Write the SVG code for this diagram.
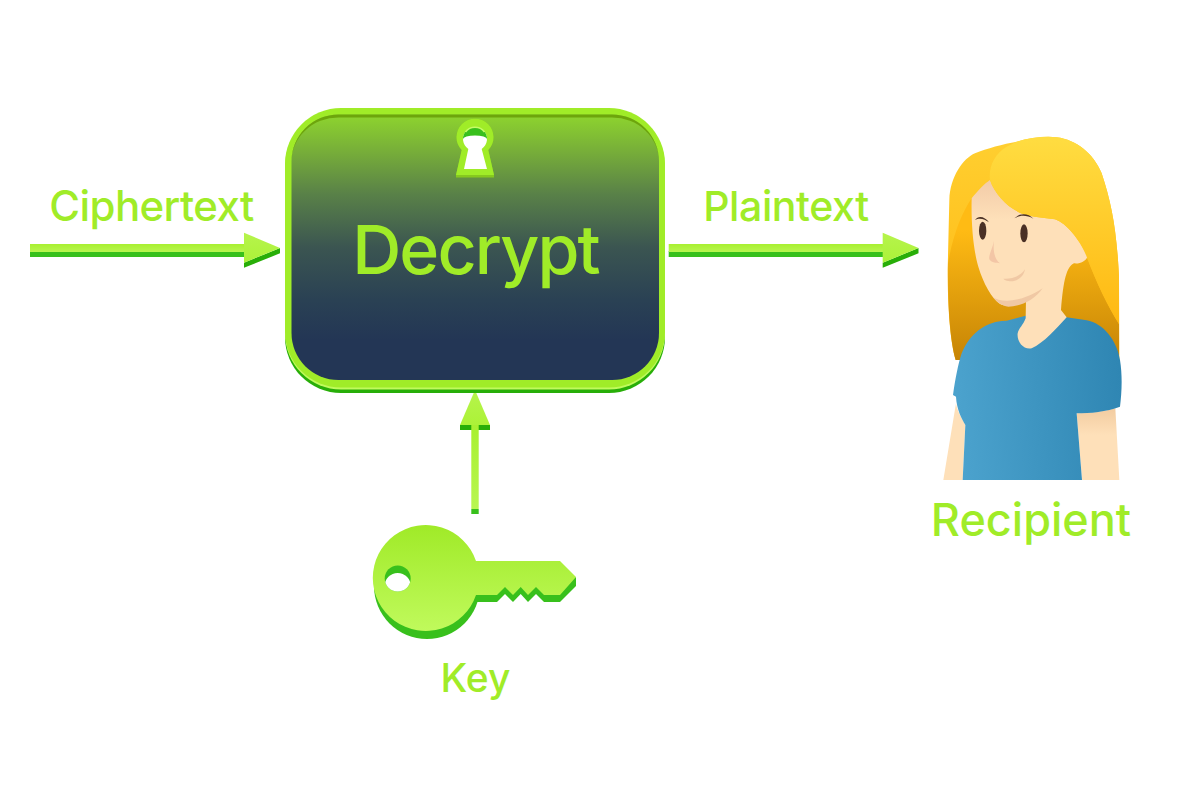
<svg xmlns="http://www.w3.org/2000/svg" width="1200" height="800" viewBox="0 0 1200 800">
  <defs>
    <linearGradient id="panelFill" x1="0" y1="0" x2="0" y2="1">
      <stop offset="0" stop-color="#8ed42e"/>
      <stop offset="0.15" stop-color="#75ab3a"/>
      <stop offset="0.3" stop-color="#598148"/>
      <stop offset="0.5" stop-color="#3b5551"/>
      <stop offset="0.7" stop-color="#2a4154"/>
      <stop offset="0.85" stop-color="#233655"/>
      <stop offset="1" stop-color="#233655"/>
    </linearGradient>
    <linearGradient id="arrowFill" x1="0" y1="0" x2="0" y2="1">
      <stop offset="0" stop-color="#a8f030"/>
      <stop offset="1" stop-color="#b8f650"/>
    </linearGradient>
    <linearGradient id="headFill" x1="0" y1="0" x2="0" y2="1">
      <stop offset="0" stop-color="#b6f44c"/>
      <stop offset="1" stop-color="#acf238"/>
    </linearGradient>
    <linearGradient id="keyFill" x1="0" y1="0" x2="0" y2="1">
      <stop offset="0" stop-color="#a0ea28"/>
      <stop offset="1" stop-color="#c0fa5c"/>
    </linearGradient>
    <linearGradient id="hairBase" gradientUnits="userSpaceOnUse" x1="0" y1="50" x2="0" y2="720">
      <stop offset="0" stop-color="#ffcf30"/>
      <stop offset="1" stop-color="#ffb610"/>
    </linearGradient>
    <linearGradient id="hairShade" gradientUnits="userSpaceOnUse" x1="0" y1="330" x2="0" y2="720">
      <stop offset="0" stop-color="#ffbb14"/>
      <stop offset="1" stop-color="#c68405"/>
    </linearGradient>
    <linearGradient id="hairFront" gradientUnits="userSpaceOnUse" x1="0" y1="60" x2="0" y2="600">
      <stop offset="0" stop-color="#ffdc40"/>
      <stop offset="1" stop-color="#ffb912"/>
    </linearGradient>
    <linearGradient id="shirtFill" gradientUnits="userSpaceOnUse" x1="110" y1="800" x2="600" y2="760">
      <stop offset="0" stop-color="#4ba2cd"/>
      <stop offset="1" stop-color="#2f86b3"/>
    </linearGradient>
    <linearGradient id="armShade" gradientUnits="userSpaceOnUse" x1="0" y1="870" x2="0" y2="945">
      <stop offset="0" stop-color="#f3cda2"/>
      <stop offset="1" stop-color="#fee0b9"/>
    </linearGradient>
    <linearGradient id="skinFill" gradientUnits="userSpaceOnUse" x1="0" y1="185" x2="0" y2="300">
      <stop offset="0" stop-color="#f3cca8"/>
      <stop offset="1" stop-color="#fee0b9"/>
    </linearGradient>
    <clipPath id="keyHoleClip"><circle cx="397.700" cy="578.500" r="13"/></clipPath>
  </defs>
  <style>
    .label { font-family: "Inter", "Liberation Sans", Arial, sans-serif; font-weight: 500; fill: #a0ec28; text-anchor: middle; }
    .edge { fill: #38c01c; }
    .under { fill: #28ae08; }
    .shaft { fill: url(#arrowFill); }
    .head { fill: url(#headFill); }
  </style>
  <rect width="1200" height="800" fill="#ffffff"/>

  <g id="connectors">
    <g id="ciphertext-arrow">
      <rect class="edge" x="30" y="251" width="215" height="6"/>
      <rect class="shaft" x="30" y="244" width="215" height="8"/>
      <path class="under" d="M244 262.700 L280 248 V253.300 L244 267.700Z"/>
      <path class="head" d="M244 232.700 L280 248 L244 262.700Z"/>
    </g>
    <g id="plaintext-arrow">
      <rect class="edge" x="668.700" y="251" width="215" height="6"/>
      <rect class="shaft" x="668.700" y="244" width="215" height="8"/>
      <path class="under" d="M882.700 262.700 L918.500 248 V253.300 L882.700 267.700Z"/>
      <path class="head" d="M882.700 232.700 L918.500 248 L882.700 262.700Z"/>
    </g>
    <g id="key-arrow">
      <rect class="under" x="460" y="425" width="30" height="5"/>
      <rect class="edge" x="471.300" y="509" width="7.400" height="5"/>
      <rect class="shaft" x="471.300" y="425" width="7.400" height="84"/>
      <path class="head" d="M475 390 L490 425 H460Z"/>
    </g>
  </g>

  <g id="decrypt">
    <rect x="285" y="114" width="380" height="279" rx="56" fill="#28ae08"/>
    <rect x="285" y="110" width="380" height="279.500" rx="56" fill="#c0fa5c"/>
    <rect x="285" y="108" width="380" height="279.500" rx="56" fill="#a0ec28"/>
    <rect x="291.500" y="114.500" width="367.500" height="265.500" rx="47" fill="url(#panelFill)"/>
    <path d="M291.500 161.500 A47 47 0 0 1 338.500 114.500 H612 A47 47 0 0 1 659 161.500 A47 44 0 0 0 612 117.500 H338.500 A47 44 0 0 0 291.500 161.500Z" fill="#6da50c"/>
    <g id="keyhole">
      <path d="M461.700 150 A18.500 18.500 0 1 1 488.300 150 L494 175 V177.500 H456 V175Z" fill="#86c91e"/>
      <path d="M461.700 150 A18.500 18.500 0 1 1 488.300 150 L494 175 H456Z" fill="#a0ec28"/>
      <path d="M468.300 149 A12 12 0 1 1 481.700 149 L487 169 H464Z" fill="#ffffff"/>
      <path d="M463 139 A12 12 0 0 1 487 139 A12 3.500 0 0 0 463 139Z" fill="#38c01c"/>
      <path d="M465.500 132 A12 12 0 0 1 484.500 132" fill="none" stroke="#c6fb66" stroke-width="1.500"/>
    </g>
    <text class="label" x="475.500" y="274" font-size="68" letter-spacing="-1.900">Decrypt</text>
  </g>

  <g id="ciphertext">
    <text class="label" x="151.500" y="221" font-size="42" letter-spacing="-0.600">Ciphertext</text>
  </g>
  <g id="plaintext">
    <text class="label" x="786" y="221" font-size="41" letter-spacing="-0.400">Plaintext</text>
  </g>

  <g id="key">
    <circle cx="427" cy="586" r="53" fill="#38c01c"/>
    <path d="M470 595 H476 V602 H497 L505 594 L513 602 L520.700 594 L528 602 L536 594 L544 602 H560 L576 586 V577 L560 585 H470Z" fill="#38c01c"/>
    <path d="M476 561 H560 L576 577 L560 595 H544 L536 587 L528 595 L520.700 587 L513 595 L505 587 L497 595 H476 A53 53 0 1 1 476 561Z" fill="url(#keyFill)"/>
    <circle cx="397.700" cy="578.500" r="13" fill="#38c01c"/>
    <g clip-path="url(#keyHoleClip)"><circle cx="397.700" cy="586" r="13" fill="#ffffff"/></g>
    <text class="label" x="475.500" y="692" font-size="39">Key</text>
  </g>

  <g id="recipient" transform="translate(920 120) scale(0.33333)">
    <!-- hair: back layer and the darker part under the face -->
    <path d="M107 720 C90 660 83 560 83 450 L88 240 C90 170 130 115 165 100 C200 85 250 72 290 65 C330 52 380 48 410 52 C470 60 520 100 545 160 C575 250 590 330 597 470 L598 720Z" fill="url(#hairBase)"/>
    <path d="M84 430 C100 340 125 280 155 235 L500 410 C530 490 565 560 597 612 V720 H107 C90 660 83 560 84 430Z" fill="url(#hairShade)"/>
    <!-- arms -->
    <path d="M108 850 L70 1080 H128 L136 915 C125 895 110 870 108 850Z" fill="#fee0b9"/>
    <path d="M470 880 L486 1080 H598 L586 865 C550 875 510 880 470 880Z" fill="url(#armShade)"/>
    <!-- shirt -->
    <path d="M128 1080 L136 915 C125 895 110 870 108 830 L99 825 C105 780 115 730 125 700 C150 640 195 608 245 603 L260 602 L317 587 L440 592 L500 601 C550 610 590 660 600 720 C608 770 605 820 600 860 C560 875 510 880 470 880 L486 1080Z" fill="url(#shirtFill)"/>
    <!-- face and neck -->
    <path d="M155 235 C175 210 195 190 210 180 C225 225 265 265 310 283 C340 292 370 293 405 298 C440 310 480 360 503 410 C495 425 480 432 462 430 C440 440 430 480 423 570 L440 592 C410 625 370 670 335 685 C310 690 290 665 293 640 C296 625 310 615 317 595 L318 540 C300 555 260 562 240 552 C215 535 190 490 175 440 C160 390 153 310 155 235Z" fill="url(#skinFill)"/>
    <path d="M218 530 C240 548 300 550 368 505 C345 540 300 560 265 560 C245 558 230 545 218 530Z" fill="#f0c8a4"/>
    <!-- front hair -->
    <path d="M210 180 C205 140 225 100 260 80 L290 65 C330 52 380 48 410 52 C470 60 520 100 545 160 C575 250 590 330 597 470 L597 612 C565 560 530 490 500 410 C480 360 440 310 405 298 C370 293 340 292 310 283 C265 265 225 225 210 180Z" fill="url(#hairFront)"/>
    <!-- eyes, brows, nose, mouth -->
    <ellipse cx="188" cy="332" rx="11" ry="27" fill="#4a3025"/>
    <ellipse cx="312" cy="340" rx="11" ry="27" fill="#4a3025"/>
    <path d="M165 300 C175 285 195 290 207 307 C195 297 178 292 165 300Z" fill="#4a3025"/>
    <path d="M283 295 C300 278 325 280 340 296 C320 285 300 285 283 295Z" fill="#4a3025"/>
    <path d="M222 362 C218 385 205 405 208 418 C215 430 230 428 240 430 C225 420 218 395 222 362Z" fill="#f3c6a6"/>
    <path d="M250 476 C275 478 300 470 315 448 C312 470 290 488 265 483 C258 482 254 480 250 476Z" fill="#f0c8a4"/>
  </g>
  <g id="recipient-label">
    <text class="label" x="1031" y="536" font-size="45">Recipient</text>
  </g>
</svg>
